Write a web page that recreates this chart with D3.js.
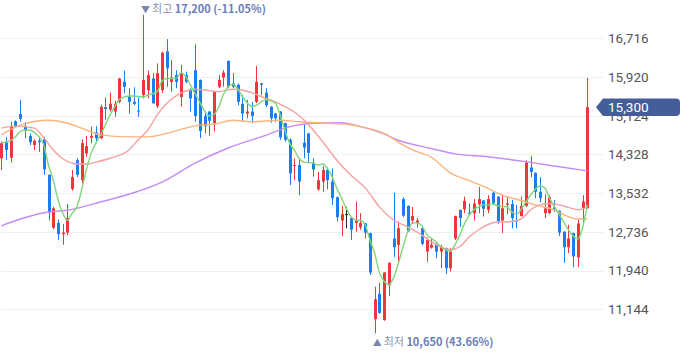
<!DOCTYPE html>
<html><head><meta charset="utf-8">
<script src="https://cdn.jsdelivr.net/npm/d3@7"></script>
<style>html,body{margin:0;padding:0;background:#fff;overflow:hidden}</style>
</head><body><svg id="c" width="680" height="358"></svg>
<script>
// ---- data ----
const openP  = [14250,14590,14260,15010,15160,14910,14710,14520,14610,14640,13910,12820,12920,12690,12720,13620,14210,13800,14350,14670,14780,14660,15300,15250,15210,15410,15820,15520,15410,15230,15550,15650,15890,15320,15650,16450,15820,15960,15510,15960,15650,16060,15860,15120,15210,14970,15720,15910,16250,15790,15760,15370,15170,15210,15410,15790,15600,15310,15170,15210,14970,14630,14090,14110,14570,14760,14160,13610,13770,14010,13770,13450,12970,13100,13020,12920,12830,12910,12710,10940,11460,10920,11640,12600,12470,13410,13270,12970,12920,12810,12330,12410,12470,12330,12400,11990,12600,13190,13200,13130,13120,13300,13380,13190,13540,13460,12970,13290,13310,12970,13060,13270,14060,13950,13560,13120,13120,13240,13170,12740,12420,12710,12210,13220,13220];
const highP  = [14600,14690,15000,15030,15450,14990,14760,14640,14690,14690,13920,13250,12990,12900,13310,14010,14250,14640,14710,14900,14910,15350,15500,15600,15430,15900,16050,15690,15710,15500,17200,16050,16000,16200,16440,16700,16270,16060,16170,16030,15690,16590,15870,15210,15220,15630,15960,16060,16260,16000,15790,15550,15450,15410,16150,15800,15690,15320,15180,15220,14980,14660,14250,14210,14950,14770,14250,13970,14090,14060,14040,13460,13270,13250,13030,13360,13120,12920,12720,11610,11690,11910,12110,13540,12950,13450,13280,13250,13020,12860,12620,12600,12500,12470,12410,12400,13070,13190,13460,13320,13410,13660,13390,13490,13560,13470,13490,13460,13390,13290,13460,14210,14300,13960,13860,13510,13490,13390,13180,12750,12880,12720,12990,13490,15900];
const lowP   = [14010,14210,14160,14890,15000,14660,14520,14420,14380,13910,12970,12790,12570,12470,12670,13580,13860,13730,14280,14560,14560,14650,15040,15210,15100,15380,15590,15170,15340,15100,15480,15480,15370,15280,15590,15720,15620,15690,15310,15790,15210,15000,14660,14760,14710,14800,15690,15720,15690,15690,15340,15000,15070,14970,15380,15550,15300,14980,15000,14630,14590,13700,13800,13490,14250,14150,13870,13580,13560,13610,13290,12950,12650,12810,12570,12740,12780,12600,11850,10650,11050,10910,11420,12220,12060,13040,12730,12900,12820,12460,12120,12390,12190,11990,11870,11920,12570,12840,13120,13080,12970,13120,13050,13120,13290,12900,12710,13100,12810,12810,13050,13250,13860,13430,13340,13020,13100,13150,12650,12100,12300,12010,12010,12910,13220];
const closeP = [14560,14420,14910,14910,15060,14820,14580,14610,14580,14020,13130,13220,12690,12720,13020,13860,13910,14560,14500,14710,14660,15310,15260,15370,15370,15890,15720,15410,15370,15210,15860,15960,15380,16000,16420,16100,15910,15820,15980,15820,15480,15120,14810,14910,15020,15620,15860,16010,15720,15720,15410,15170,15210,15120,15820,15760,15340,15070,15070,14680,14630,13940,14110,13770,14470,14360,14020,13800,14010,13800,13430,13040,13100,13100,12780,12970,12920,12720,11900,11350,11070,11900,12100,12420,12810,13070,12750,13060,12970,12490,12570,12470,12330,12430,11990,12330,13060,13020,13370,13100,13320,13410,13210,13410,13320,12950,13220,13320,13020,12950,13270,14160,13970,13560,13430,13220,13450,13200,12720,12420,12600,12230,12910,13360,15300];

// moving averages: [candle index, value]
const ma5 = [[0,14560],[2,14610],[3,14690],[4,14800],[5,14830],[6,14830],[7,14780],[8,14690],[9,14520],[10,14100],[11,13800],[12,13400],[13,13120],[14,12970],[15,13120],[16,13250],[17,13600],[18,14010],[19,14350],[20,14560],[21,14730],[23,15140],[24,15310],[25,15460],[27,15530],[28,15530],[30,15510],[31,15550],[33,15620],[34,15840],[35,15890],[37,15890],[38,16010],[39,15930],[40,15760],[41,15580],[42,15400],[44,15120],[45,15150],[46,15300],[47,15560],[48,15720],[49,15770],[50,15680],[51,15520],[53,15320],[54,15340],[55,15410],[56,15450],[57,15430],[58,15380],[59,15140],[60,14830],[61,14560],[62,14420],[63,14250],[64,14170],[66,14150],[67,14110],[68,14130],[69,14040],[70,13870],[71,13630],[72,13430],[73,13220],[74,13050],[75,12980],[76,12970],[77,12880],[78,12570],[79,12300],[80,11900],[81,11720],[82,11650],[83,11790],[84,12080],[85,12430],[86,12740],[87,12920],[88,12920],[89,12860],[90,12690],[92,12530],[93,12430],[95,12340],[96,12470],[97,12670],[98,12900],[100,13190],[101,13250],[102,13290],[103,13290],[104,13310],[105,13270],[107,13250],[108,13150],[109,13100],[111,13350],[112,13490],[114,13680],[115,13640],[116,13430],[118,13100],[119,12940],[121,12650],[122,12590],[123,12820],[124,13290]];
const ma20 = [[0,14870],[3,14910],[7,14870],[9,14670],[11,14420],[13,14240],[15,14150],[16,14130],[18,14130],[20,14170],[23,14250],[27,14420],[29,14630],[31,14830],[33,15140],[35,15380],[38,15590],[41,15670],[44,15640],[46,15620],[49,15670],[53,15600],[55,15520],[58,15410],[60,15310],[62,15200],[64,15040],[66,14830],[68,14590],[71,14210],[74,13900],[77,13640],[80,13250],[83,12980],[86,12840],[89,12670],[91,12530],[93,12430],[95,12370],[97,12430],[99,12630],[101,12780],[105,12940],[107,12940],[110,13000],[112,13190],[114,13290],[116,13320],[118,13290],[120,13240],[122,13190],[124,13240]];
const ma60 = [[0,14730],[4,14930],[10,15030],[14,14970],[17,14870],[21,14730],[27,14690],[31,14690],[35,14760],[39,14870],[42,14930],[45,14950],[49,15030],[53,15000],[59,15030],[63,15000],[69,14970],[73,14950],[76,14900],[81,14760],[84,14580],[87,14420],[91,14270],[95,13950],[99,13790],[103,13630],[106,13490],[110,13380],[113,13290],[117,13190],[120,13050],[122,13000],[124,13000]];
const ma120 = [[0,12860],[4,13000],[9,13130],[14,13180],[21,13350],[28,13540],[34,13760],[41,14150],[48,14460],[55,14690],[62,14920],[66,14970],[72,14980],[76,14900],[81,14750],[84,14620],[91,14450],[96,14340],[103,14280],[111,14180],[117,14090],[124,13990]];

const yTicks = [16716,15920,15124,14328,13532,12736,11940,11144];

// ---- drawing ----
const svg = d3.select("#c");
const n = closeP.length;
const x = d3.scaleLinear().domain([0, n - 1]).range([1.3, 587.3]);
const y = d3.scaleLinear().domain([10142, 17504]).range([358, 0]);
const plotRight = 603;

const RED = "#f0353c", BLUE = "#1b7ef0", BLACK = "#222";

// grid
svg.append("g").selectAll("line").data(yTicks).join("line")
  .attr("x1", 1).attr("x2", plotRight)
  .attr("y1", d => Math.round(y(d)) + 0.5).attr("y2", d => Math.round(y(d)) + 0.5)
  .attr("stroke", "#eef0f4").attr("stroke-width", 1);

// axis labels
svg.append("g").selectAll("text").data(yTicks).join("text")
  .attr("x", 608).attr("y", d => y(d)).attr("dy", "0.36em")
  .attr("font-family", "'Liberation Sans Narrow', Roboto, sans-serif")
  .attr("font-size", 13.5).attr("fill", "#555")
  .text(d => d3.format(",")(d));

// candles
const idx = d3.range(n);
const col = i => closeP[i] > openP[i] ? RED : (closeP[i] < openP[i] ? BLUE : BLACK);
const cg = svg.append("g");
cg.selectAll("line").data(idx).join("line")
  .attr("x1", i => Math.round(x(i)) + 0.5).attr("x2", i => Math.round(x(i)) + 0.5)
  .attr("y1", i => y(highP[i])).attr("y2", i => y(lowP[i]))
  .attr("stroke", col).attr("stroke-width", 1);
cg.selectAll("rect").data(idx).join("rect")
  .attr("x", i => Math.round(x(i)) - 1).attr("width", 3)
  .attr("y", i => y(Math.max(openP[i], closeP[i])))
  .attr("height", i => Math.max(1, Math.abs(y(openP[i]) - y(closeP[i]))))
  .attr("fill", col);

// moving averages
const line = d3.line().x(d => x(d[0])).y(d => y(d[1])).curve(d3.curveMonotoneX);
[[ma120, "#c48cf6"], [ma60, "#fbb47c"], [ma20, "#f6a0a0"], [ma5, "#7fd77a"]].forEach(([data, c]) => {
  svg.append("path").datum(data).attr("d", line)
    .attr("fill", "none").attr("stroke", c).attr("stroke-width", 1.4);
});

// high / low markers
const last = closeP[n - 1];
const hi = d3.max(highP), iHi = highP.indexOf(hi);
const lo = d3.min(lowP), iLo = lowP.indexOf(lo);
const pct = v => ((last - v) / v * 100).toFixed(2) + "%";
function marker(ix, yy, sym, word, val) {
  const t = svg.append("text").attr("x", x(ix) - 2).attr("y", yy)
    .attr("font-family", "'Noto Sans CJK KR', sans-serif").attr("font-size", 11);
  t.append("tspan").attr("fill", "#7d89a8").attr("font-size", 9).text(sym + " ");
  t.append("tspan").attr("fill", "#8a93ab").text(word + " ");
  t.append("tspan").attr("fill", "#6a7db6").attr("font-weight", "bold")
    .text(d3.format(",")(val) + " (" + pct(val) + ")");
}
marker(iHi, 12.5, "▼", "최고", hi);
marker(iLo, 346, "▲", "최저", lo);

// last price tag
const cy = y(last);
svg.append("path")
  .attr("d", `M596,${cy} L603,${cy - 8.8} L676,${cy - 8.8} Q680,${cy - 8.8} 680,${cy - 4.8} L680,${cy + 4.8} Q680,${cy + 8.8} 676,${cy + 8.8} L603,${cy + 8.8} Z`)
  .attr("fill", "#455d99");
svg.append("text").attr("x", 608).attr("y", cy).attr("dy", "0.36em")
  .attr("font-family", "'Liberation Sans Narrow', Roboto, sans-serif")
  .attr("font-size", 13.5).attr("fill", "#fff").text(d3.format(",")(last));
</script></body></html>
